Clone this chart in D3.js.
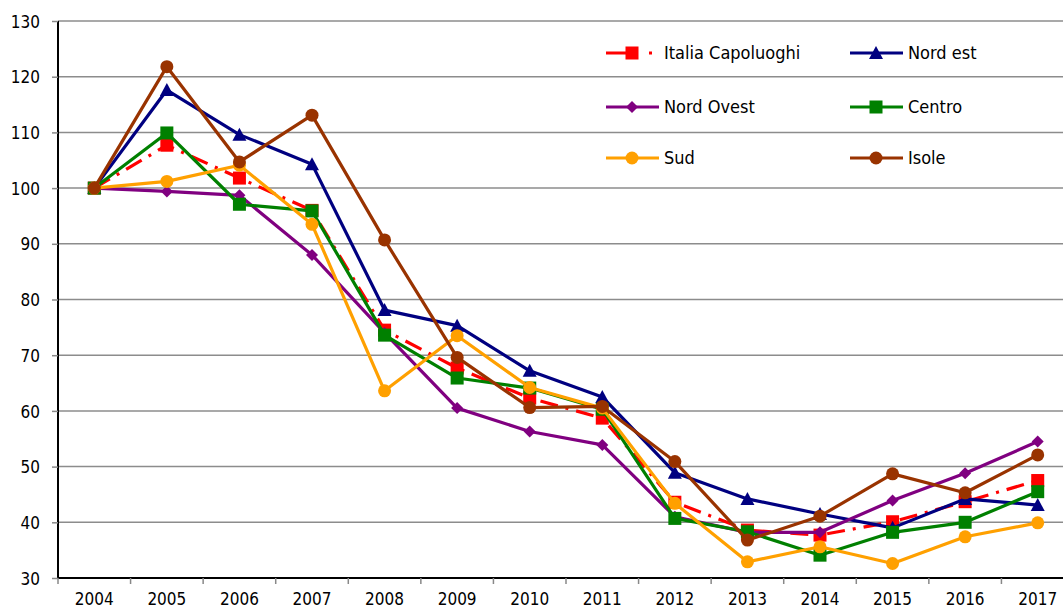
<!DOCTYPE html>
<meta charset="utf-8">
<style>
body { margin: 0; background: #fff; }
text { font-family: "DejaVu Sans Condensed", "DejaVu Sans", sans-serif; font-size: 17px; fill: #000; }
.grid line { stroke: #8c8c8c; stroke-width: 1.5px; }
.series { fill: none; stroke-width: 3.2px; stroke-linejoin: round; }
.legend text { font-size: 18px; }
</style>
<body>
<script src="https://d3js.org/d3.v7.min.js"></script>
<script>

    // data
    let years = ["2004", "2005", "2006", "2007", "2008", "2009", "2010", "2011", "2012", "2013", "2014", "2015", "2016", "2017"];
    let yTicks = [30, 40, 50, 60, 70, 80, 90, 100, 110, 120, 130];

    let italiaCapoluoghi = [100, 107.7, 101.8, 96.0, 74.5, 67.7, 62.3, 58.7, 43.6, 38.6, 37.7, 40.1, 43.7, 47.5];
    let nordEst = [100, 117.6, 109.6, 104.3, 78.1, 75.3, 67.2, 62.5, 48.9, 44.2, 41.5, 39.0, 44.2, 43.1];
    let nordOvest = [100, 99.4, 98.7, 88.0, 74.0, 60.5, 56.3, 53.9, 41.0, 38.2, 38.2, 43.9, 48.8, 54.5];
    let centro = [100, 109.9, 97.1, 95.9, 73.6, 65.9, 64.1, 60.3, 40.7, 38.3, 34.1, 38.2, 40.0, 45.5];
    let sud = [100, 101.2, 104.1, 93.5, 63.6, 73.5, 64.2, 60.5, 43.4, 32.9, 35.6, 32.6, 37.4, 39.9];
    let isole = [100, 121.8, 104.7, 113.1, 90.7, 69.6, 60.6, 60.8, 50.9, 36.8, 41.1, 48.7, 45.3, 52.1];

    let seriesNames = ["Italia Capoluoghi", "Nord est", "Nord Ovest", "Centro", "Sud", "Isole"];
    let seriesValues = [italiaCapoluoghi, nordEst, nordOvest, centro, sud, isole];
    let seriesColors = ["#ff0000", "#000080", "#800080", "#008000", "#ffa000", "#993300"];
    let seriesMarkers = ["square", "triangle", "diamond", "square", "circle", "circle"];

    let margin = {top: 21, right: 0, bottom: 32, left: 58},
        width = 1016,
        height = 557;

    let svg = d3.select("body").append("svg")
        .attr("width", 1063)
        .attr("height", 610)
        .append("g")
        .attr("transform", "translate(" + margin.left + "," + margin.top + ")");

    let x = d3.scaleBand().domain(years).range([0, width]);
    let y = d3.scaleLinear().domain([30, 130]).range([height, 0]);

    // horizontal gridlines
    svg.append("g")
        .attr("class", "grid")
        .selectAll("line")
        .data(yTicks.filter(function (d) { return d > 30; }))
        .enter().append("line")
        .attr("x1", 0)
        .attr("x2", width)
        .attr("y1", function (d) { return y(d); })
        .attr("y2", function (d) { return y(d); });

    // y axis
    let yAxis = svg.append("g")
        .call(d3.axisLeft(y).tickValues(yTicks).tickSize(6).tickPadding(12));
    yAxis.select(".domain").attr("stroke", "#000").attr("stroke-width", 2).attr("d", "M0," + height + "V0");
    yAxis.selectAll(".tick line").attr("stroke", "#888").attr("stroke-width", 1.5);
    yAxis.selectAll("text").attr("dy", "0.36em").style("font-size", "17px");

    // x axis: tick marks on the band boundaries, labels centred
    let xg = svg.append("g").attr("transform", "translate(0," + height + ")");
    xg.append("line")
        .attr("x1", 0).attr("x2", width)
        .attr("stroke", "#000").attr("stroke-width", 2);
    xg.selectAll(".xtick")
        .data(years)
        .enter().append("line")
        .attr("class", "xtick")
        .attr("x1", function (d) { return x(d); })
        .attr("x2", function (d) { return x(d); })
        .attr("y1", 0).attr("y2", 6)
        .attr("stroke", "#888").attr("stroke-width", 1.5);
    xg.selectAll(".xlabel")
        .data(years)
        .enter().append("text")
        .attr("class", "xlabel")
        .attr("x", function (d) { return x(d) + x.bandwidth() / 2; })
        .attr("y", 27)
        .attr("text-anchor", "middle")
        .text(function (d) { return d; });

    function drawMarker(g, type, color, cx, cy) {
        if (type === "square") {
            g.append("rect").attr("x", cx - 6.5).attr("y", cy - 6.5).attr("width", 13).attr("height", 13).attr("fill", color);
        } else if (type === "circle") {
            g.append("circle").attr("cx", cx).attr("cy", cy).attr("r", 6.5).attr("fill", color);
        } else if (type === "triangle") {
            g.append("path").attr("d", "M" + cx + "," + (cy - 7) + "L" + (cx + 7) + "," + (cy + 6) + "L" + (cx - 7) + "," + (cy + 6) + "Z").attr("fill", color);
        } else if (type === "diamond") {
            g.append("path").attr("d", "M" + cx + "," + (cy - 6) + "L" + (cx + 6) + "," + cy + "L" + cx + "," + (cy + 6) + "L" + (cx - 6) + "," + cy + "Z").attr("fill", color);
        }
    }

    let line = d3.line()
        .x(function (d, i) { return x(years[i]) + x.bandwidth() / 2; })
        .y(function (d) { return y(d); });

    seriesValues.forEach(function (vals, s) {
        let g = svg.append("g");
        let p = g.append("path")
            .datum(vals)
            .attr("class", "series")
            .attr("stroke", seriesColors[s])
            .attr("d", line);
        if (s === 0) p.attr("stroke-dasharray", "18,8,3,8");
        vals.forEach(function (v, i) {
            drawMarker(g, seriesMarkers[s], seriesColors[s], x(years[i]) + x.bandwidth() / 2, y(v));
        });
    });

    // legend
    let legendX = [548, 792];
    let legendY = [32, 86, 137];
    let legend = svg.append("g").attr("class", "legend");
    seriesNames.forEach(function (name, s) {
        let lx = legendX[s % 2], ly = legendY[Math.floor(s / 2)];
        let g = legend.append("g");
        let seg = g.append("line")
            .attr("x1", lx).attr("x2", lx + 53)
            .attr("y1", ly).attr("y2", ly)
            .attr("stroke", seriesColors[s]).attr("stroke-width", 3);
        if (s === 0) seg.attr("stroke-dasharray", "22,21,3,20");
        drawMarker(g, seriesMarkers[s], seriesColors[s], lx + 26, ly);
        g.append("text")
            .attr("x", lx + 58)
            .attr("y", ly)
            .attr("dy", "0.36em")
            .text(name);
    });

</script>
</body>
